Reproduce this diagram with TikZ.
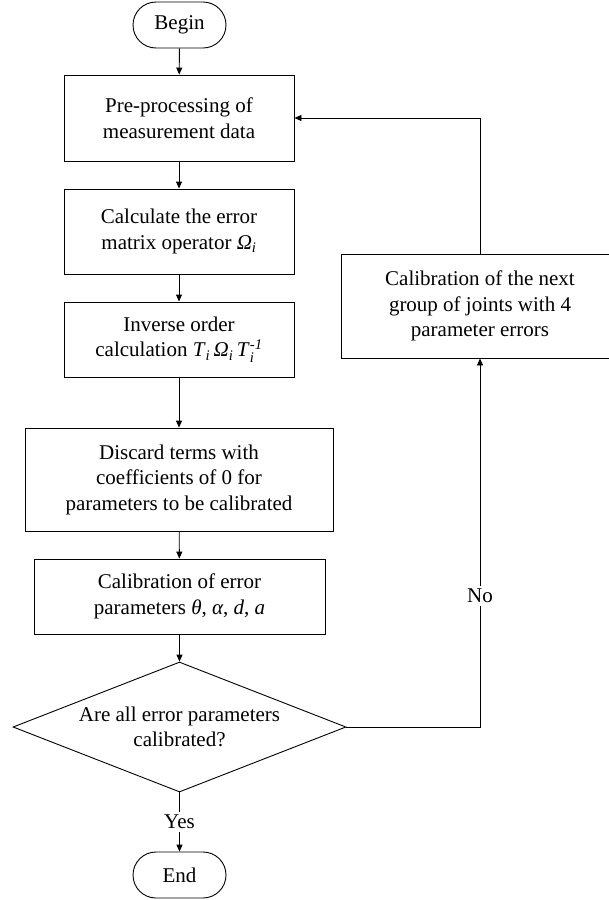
\documentclass[tikz,border=0pt]{standalone}
\usepackage{amstext}
\usepackage{fontspec}
\setmainfont{Liberation Serif}
\usetikzlibrary{shapes.geometric,shapes.misc,arrows.meta}

\tikzset{
  procbox/.style={draw,line width=0.9pt,align=center,inner sep=0pt},
  terminal/.style={draw,line width=0.9pt,rounded rectangle,minimum width=93pt,minimum height=46pt,inner sep=0pt},
  decision/.style={draw,line width=0.9pt,diamond,aspect=2.56,align=center,minimum width=333pt,minimum height=130pt,inner sep=-4pt},
  flow/.style={line width=0.9pt,-{Triangle[length=7pt,width=6pt]}},
}

\begin{document}
\begin{tikzpicture}[x=1pt,y=1pt,font=\fontsize{21}{25.5}\selectfont]
    \useasboundingbox (0,0) rectangle (609,-900);

    % Main column
    \node[terminal] (begin) at (179.5,-25) {Begin};
    \node[procbox,minimum width=230pt,minimum height=86pt] (pre) at (179,-118) {Pre-processing of\\measurement data};
    \node[procbox,minimum width=230pt,minimum height=85pt] (calc) at (179,-231.5) {Calculate the error\\matrix operator \textit{Ω}$_{\textit{i}}$};
    \node[procbox,minimum width=230pt,minimum height=75pt] (inv) at (179,-339.5) {Inverse order\\calculation \textit{T}$_{\textit{i}}\,$\textit{Ω}$_{\textit{i}}\,$\textit{T}$_{\textit{i}}^{\textit{-1}}$};
    \node[procbox,minimum width=308pt,minimum height=103pt] (disc) at (179,-479.5) {Discard terms with\\coefficients of 0 for\\parameters to be calibrated};
    \node[procbox,minimum width=291pt,minimum height=75pt] (calib) at (179.5,-596.5) {Calibration of error\\parameters \textit{θ}, \textit{α}, \textit{d}, \textit{a}};
    \node[decision] (ask) at (179.5,-727) {Are all error parameters\\calibrated?};
    \node[terminal] (end) at (179.5,-875) {End};

    % Loop back
    \node[procbox,minimum width=278pt,minimum height=104pt] (next) at (480,-306) {Calibration of the next\\group of joints with 4\\parameter errors};

    % Connectors
    \draw[flow] (begin) -- (pre);
    \draw[flow] (pre) -- (calc);
    \draw[flow] (calc) -- (inv);
    \draw[flow] (inv) -- (disc);
    \draw[flow] (disc) -- (calib);
    \draw[flow] (calib) -- (ask);
    \draw[flow] (ask) -- node[fill=white,inner sep=3pt] {Yes} (end);
    \draw[flow] (ask) -| node[pos=0.678,fill=white,inner sep=3pt] {No} (next);
    \draw[flow] (next) |- (pre);

\end{tikzpicture}
\end{document}
